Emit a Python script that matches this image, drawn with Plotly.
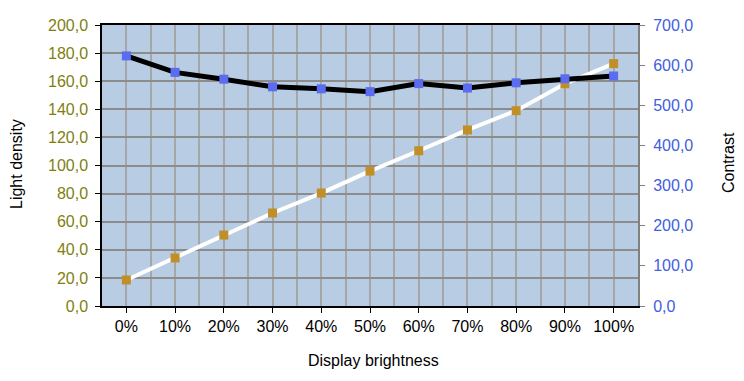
import plotly.graph_objects as go

categories = ["0%", "10%", "20%", "30%", "40%", "50%", "60%", "70%", "80%", "90%", "100%"]
light_density = [18.5, 34.2, 50.5, 66.2, 80.4, 96.0, 110.5, 125.3, 139.0, 158.2, 172.5]
contrast = [623, 582, 565, 546, 541, 534, 554, 543, 556, 566, 573]

xpos = list(range(len(categories)))
font_family = "Liberation Sans, Arial, sans-serif"

# page offset of the figure (body margin)
OFF = 8
W, H = 744, 381
L, R, T, B = 102 - OFF, W - (638 - OFF), 25 - OFF, H - (306 - OFF)

fig = go.Figure()
fig.add_trace(go.Scatter(
    x=xpos, y=light_density, mode="lines+markers", name="Light density",
    line=dict(color="white", width=4),
    marker=dict(symbol="square", size=9, color="#c08f28"),
    yaxis="y", showlegend=False))
fig.add_trace(go.Scatter(
    x=xpos, y=contrast, mode="lines+markers", name="Contrast",
    line=dict(color="black", width=5),
    marker=dict(symbol="square", size=9, color="#5a6cf0"),
    yaxis="y2", showlegend=False))

fig.update_layout(
    width=W, height=H,
    margin=dict(l=L, r=R, t=T, b=B, autoexpand=False),
    paper_bgcolor="white",
    plot_bgcolor="#b8cce4",
    separators=", ",
    font=dict(family=font_family, size=16, color="black"),
    xaxis=dict(
        range=[-0.5, 10.5], tickvals=xpos, ticktext=categories,
        showgrid=True, gridcolor="#a6a6a6", gridwidth=2,
        minor=dict(dtick=1, tick0=0.5, showgrid=True, gridcolor="#a6a6a6", gridwidth=2),
        showline=True, linecolor="black", linewidth=1.5, mirror=True,
        ticks="outside", ticklen=5, tickcolor="black",
        tickfont=dict(size=16, color="black"), zeroline=False,
    ),
    yaxis=dict(
        range=[0, 200], dtick=20, tickformat=".1f",
        showgrid=True, gridcolor="#8c8c8c", gridwidth=1.5,
        showline=True, linecolor="black", linewidth=1.5,
        ticks="outside", ticklen=5, tickcolor="black", ticklabelstandoff=4,
        tickfont=dict(size=16, color="#7f7f10"), zeroline=False,
    ),
    yaxis2=dict(
        range=[0, 700], dtick=100, tickformat=".1f", overlaying="y", side="right",
        showgrid=False, showline=True, linecolor="#808080", linewidth=2,
        ticks="outside", ticklen=5, tickcolor="#808080", ticklabelstandoff=5,
        tickfont=dict(size=16, color="#4060e0"), zeroline=False,
    ),
)

pw = W - L - R
ph = H - T - B

def px_to_paper(px, py):
    fx, fy = px - OFF, py - OFF
    return (fx - L) / pw, (H - B - fy) / ph

titles = [
    ("Light density", 16, 164, -90),
    ("Contrast", 728, 163, -90),
    ("Display brightness", 373, 360, 0),
]
for text, px, py, ang in titles:
    ax, ay = px_to_paper(px, py)
    fig.add_annotation(text=text, x=ax, y=ay, xref="paper", yref="paper",
                       xanchor="center", yanchor="middle", showarrow=False,
                       textangle=ang, font=dict(size=16, color="black"))

fig.write_html("out.html")
